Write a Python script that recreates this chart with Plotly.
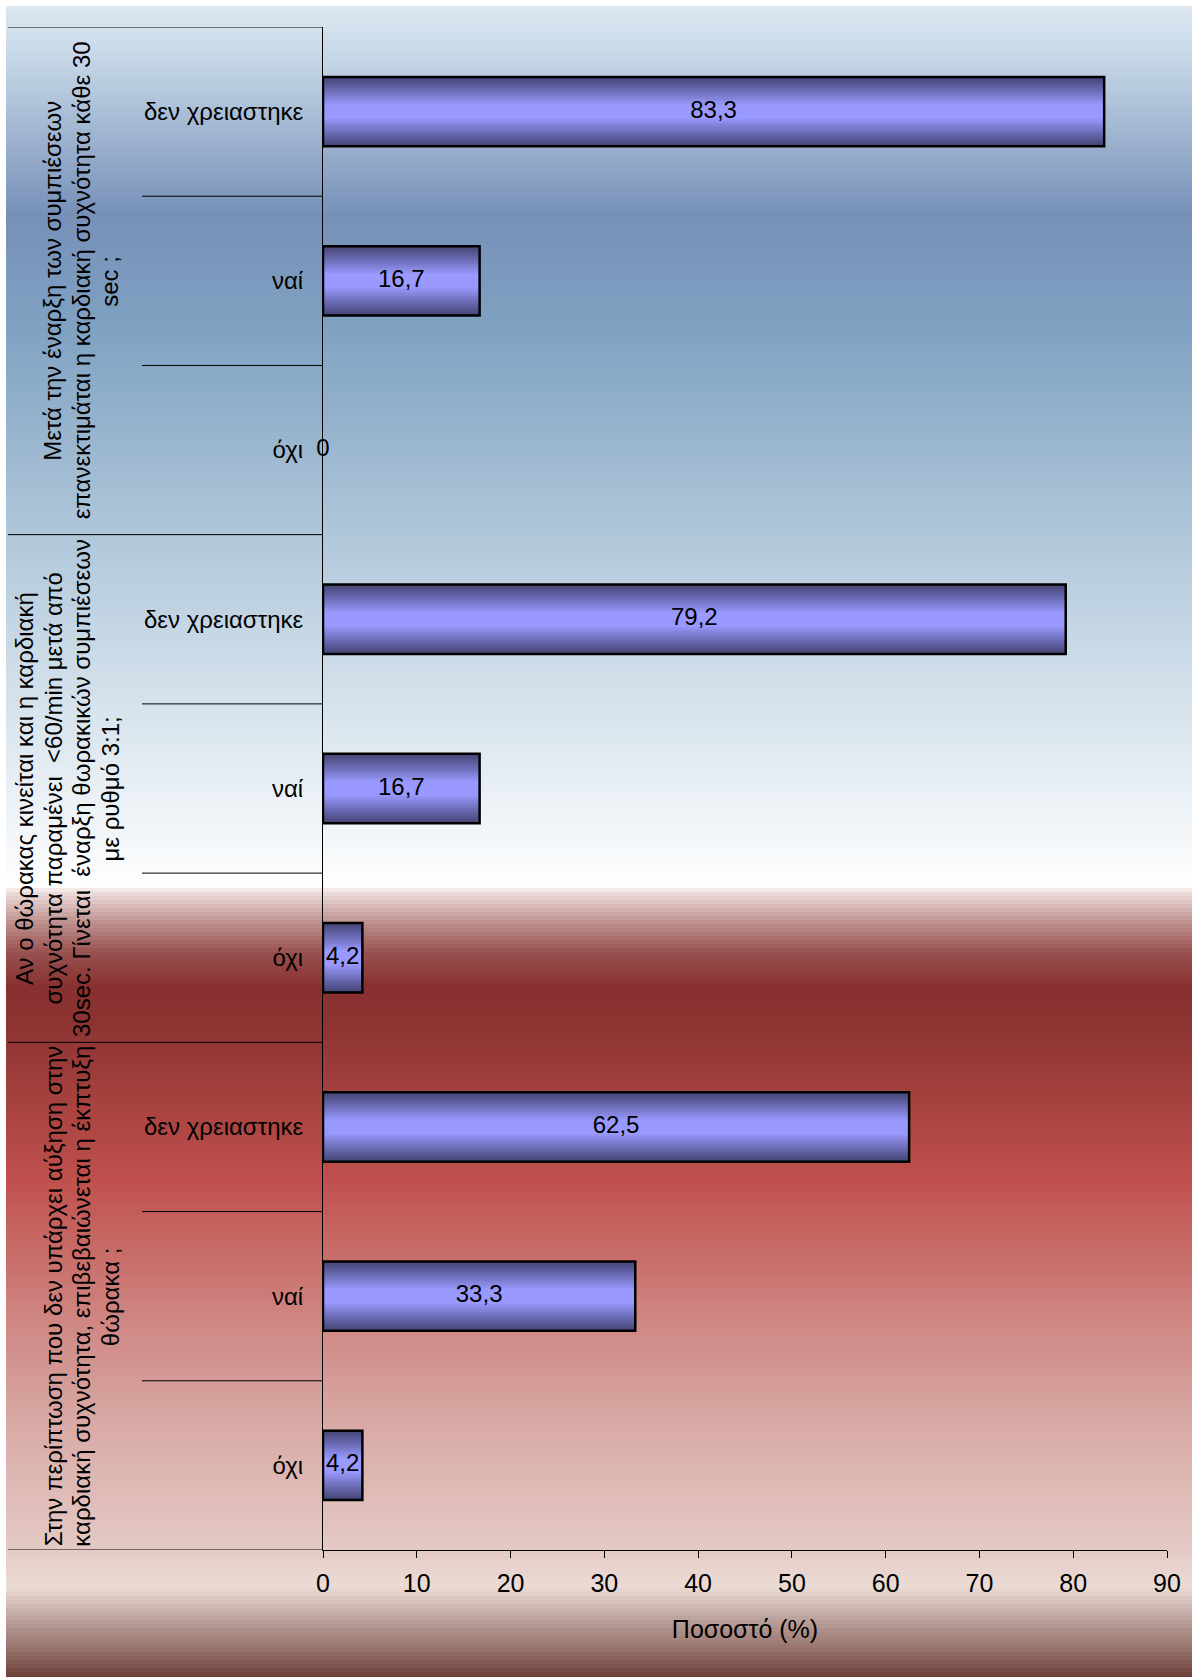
import base64
import struct
import zlib

import plotly.graph_objects as go

# ---------------- data ----------------
sub_categories = ["δεν χρειαστηκε", "ναί", "όχι"]

group_titles = [
    ["Μετά την έναρξη των συμπιέσεων",
     "επανεκτιμάται η καρδιακή συχνότητα κάθε 30",
     "sec ;"],
    ["Αν ο θώρακας κινείται και η καρδιακή",
     "συχνότητα παραμένει  &lt;60/min μετά από",
     "30sec. Γίνεται  έναρξη θωρακικών συμπιέσεων",
     "με ρυθμό 3:1;"],
    ["Στην περίπτωση που δεν υπάρχει αύξηση στην",
     "καρδιακή συχνότητα, επιβεβαιώνεται η έκπτυξη",
     "θώρακα ;"],
]

group1_values = [83.3, 16.7, 0.0]
group2_values = [79.2, 16.7, 4.2]
group3_values = [62.5, 33.3, 4.2]

x_ticks = [0, 10, 20, 30, 40, 50, 60, 70, 80, 90]
x_title = "Ποσοστό (%)"

# ---------------- derived ----------------
all_values = group1_values + group2_values + group3_values
n_sub = len(sub_categories)
positions = list(range(len(all_values)))
tick_text = sub_categories * len(group_titles)
value_text = [("%.1f" % v).replace(".", ",") if v != 0 else "0" for v in all_values]

# geometry of the figure (pixels)
W, H = 1192, 1677
ML, MR, MT, MB = 323, 25, 27, 127
plot_w = W - ML - MR
plot_h = H - MT - MB


def px_to_paper_x(px):
    return (px - ML) / plot_w


def px_to_paper_y(py):
    return (H - MB - py) / plot_h


# ---------------- background gradient image ----------------
bg_stops = [
    (6, (0xDC, 0xE8, 0xF2)),
    (60, (0xC4, 0xD6, 0xE6)),
    (215, (0x77, 0x90, 0xB8)),
    (330, (0x80, 0xA2, 0xC2)),
    (535, (0xB0, 0xC7, 0xDA)),
    (700, (0xD5, 0xE2, 0xEC)),
    (870, (0xFB, 0xFC, 0xFD)),
    (884, (0xFF, 0xFF, 0xFF)),
    (890, (0xEE, 0xDE, 0xDD)),
    (920, (0xBF, 0x92, 0x90)),
    (950, (0x99, 0x52, 0x50)),
    (985, (0x87, 0x30, 0x2F)),
    (1030, (0x8E, 0x35, 0x33)),
    (1180, (0xC0, 0x50, 0x4D)),
    (1300, (0xCD, 0x7F, 0x7B)),
    (1420, (0xD8, 0xA9, 0xA5)),
    (1545, (0xE4, 0xC8, 0xC3)),
    (1585, (0xEB, 0xDB, 0xD5)),
    (1620, (0xB8, 0x9D, 0x97)),
    (1650, (0x92, 0x6E, 0x67)),
    (1677, (0x6A, 0x3A, 0x34)),
]


def bg_color(y):
    if 884 <= y <= 985 or y >= 1585:
        y = (y // 4) * 4
    for (y0, c0), (y1, c1) in zip(bg_stops, bg_stops[1:]):
        if y0 <= y <= y1:
            t = (y - y0) / (y1 - y0)
            return tuple(int(round(a + (b - a) * t)) for a, b in zip(c0, c1))
    return bg_stops[-1][1]


def make_png(width, rows):
    raw = b"".join(b"\x00" + bytes(r) * width for r in rows)

    def chunk(tag, data):
        return (struct.pack(">I", len(data)) + tag + data +
                struct.pack(">I", zlib.crc32(tag + data) & 0xFFFFFFFF))

    ihdr = struct.pack(">IIBBBBB", width, len(rows), 8, 2, 0, 0, 0)
    return (b"\x89PNG\r\n\x1a\n" + chunk(b"IHDR", ihdr) +
            chunk(b"IDAT", zlib.compress(raw, 9)) + chunk(b"IEND", b""))


bg_top, bg_left = 6, 6
rows = [bg_color(y) for y in range(bg_top, H)]
png = make_png(4, rows)
bg_uri = "data:image/png;base64," + base64.b64encode(png).decode()

# ---------------- figure ----------------
fig = go.Figure()

BAR_W = 0.41
light = (0x99, 0x99, 0xFF)
dark = (0x46, 0x46, 0x78)
N_LAYERS = 18
for i in range(N_LAYERS):
    f = 1 - i / N_LAYERS
    s = max(0.0, min(1.0, (f - 0.22) / 0.78)) ** 0.95
    col = tuple(int(round(l + (d - l) * s)) for l, d in zip(light, dark))
    fig.add_trace(go.Bar(
        x=all_values, y=positions, orientation="h",
        width=BAR_W * f,
        marker=dict(color="rgb(%d,%d,%d)" % col, line=dict(width=0)),
        hoverinfo="skip",
    ))

# outline (no outline for zero-length bars)
fig.add_trace(go.Bar(
    x=all_values, y=positions, orientation="h", width=BAR_W,
    marker=dict(color="rgba(0,0,0,0)",
                line=dict(color="black",
                          width=[2.5 if v > 0 else 0 for v in all_values])),
    hoverinfo="skip",
))

# value labels
fig.add_trace(go.Scatter(
    x=[v / 2 for v in all_values], y=positions, mode="text",
    text=value_text, textposition="middle center",
    textfont=dict(family="Liberation Sans, Arial", size=24, color="black"),
    cliponaxis=False, hoverinfo="skip",
))

shapes = []
# group separator lines of the category table
for g in range(len(group_titles) + 1):
    yb = g * n_sub - 0.5
    shapes.append(dict(type="line", xref="paper", yref="y",
                       x0=px_to_paper_x(8), x1=0, y0=yb, y1=yb,
                       line=dict(color="black", width=1)))
# sub-category separator lines
for g in range(len(group_titles)):
    for k in range(1, n_sub):
        yb = g * n_sub + k - 0.5
        shapes.append(dict(type="line", xref="paper", yref="y",
                           x0=px_to_paper_x(142), x1=0, y0=yb, y1=yb,
                           line=dict(color="black", width=1)))

annotations = []
LINE_PITCH = 28.5
LAST_LINE_X = 110
for g, lines in enumerate(group_titles):
    yc = g * n_sub + (n_sub - 1) / 2
    n = len(lines)
    for j, txt in enumerate(lines):
        px = LAST_LINE_X - (n - 1 - j) * LINE_PITCH
        annotations.append(dict(
            text=txt, xref="paper", yref="y", x=px_to_paper_x(px), y=yc,
            xanchor="center", yanchor="middle", textangle=-90, showarrow=False,
            font=dict(family="Liberation Sans, Arial", size=24, color="black"),
        ))

fig.update_layout(
    width=W, height=H,
    margin=dict(l=ML, r=MR, t=MT, b=MB, pad=0),
    barmode="overlay", showlegend=False,
    paper_bgcolor="white", plot_bgcolor="rgba(0,0,0,0)",
    font=dict(family="Liberation Sans, Arial", size=24, color="black"),
    shapes=shapes, annotations=annotations,
    images=[dict(source=bg_uri, xref="paper", yref="paper",
                 x=px_to_paper_x(bg_left), y=px_to_paper_y(bg_top),
                 sizex=(W - bg_left) / plot_w, sizey=(H - bg_top) / plot_h,
                 xanchor="left", yanchor="top", sizing="stretch",
                 layer="below")],
)

fig.update_xaxes(
    range=[x_ticks[0], x_ticks[-1]], tickvals=x_ticks,
    ticks="outside", ticklen=7, tickcolor="black", tickwidth=1,
    showline=True, linecolor="black", linewidth=1,
    showgrid=False, zeroline=False,
    tickfont=dict(family="Liberation Sans, Arial", size=25, color="black"),
    ticklabelstandoff=4,
    title=dict(text=x_title, standoff=24,
               font=dict(family="Liberation Sans, Arial", size=25, color="black")),
)
fig.update_yaxes(
    range=[len(all_values) - 0.5, -0.5],
    tickvals=positions, ticktext=tick_text, ticks="",
    showline=True, linecolor="black", linewidth=1,
    showgrid=False, zeroline=False,
    tickfont=dict(family="Liberation Sans, Arial", size=24, color="black"),
    ticklabelstandoff=14,
)

fig.write_html("out.html")
